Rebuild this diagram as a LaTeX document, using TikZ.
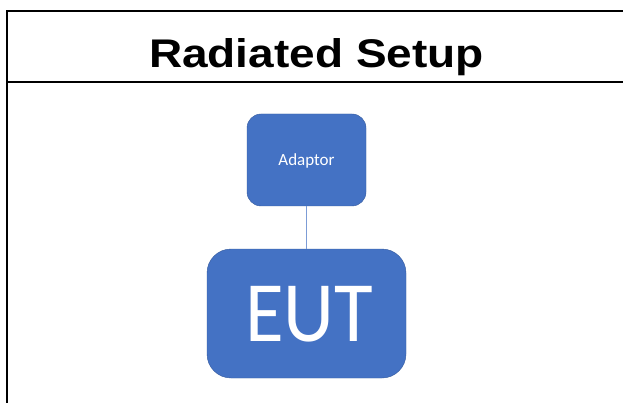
\documentclass[tikz,border=0pt]{standalone}
\usepackage{fontspec}
\usepackage{graphicx}
\setmainfont{Liberation Sans}
\newfontfamily\calib{Carlito}
\definecolor{boxblue}{HTML}{4472C4}
\begin{document}
\begin{tikzpicture}[x=1pt,y=-1pt,
  frameline/.style={black,line width=2pt},
  bluebox/.style={fill=boxblue,draw=boxblue!80!black,line width=0.4pt,text=white,inner sep=0pt},
  link/.style={draw=boxblue!70,line width=0.8pt}]
\useasboundingbox (0,0) rectangle (623,403);
\fill[white] (0,0) rectangle (623,403);
% frame
\coordinate (tl) at (7.3,11);
\coordinate (tr) at (623,11);
\coordinate (ml) at (7.3,82);
\coordinate (mr) at (623,82);
\coordinate (bl) at (7.3,403);
\draw[frameline] (tr) -- (tl) -- (bl);
\draw[frameline] (ml) -- (mr);
% title
\node[anchor=base,inner sep=0pt] (title) at (316.5,68)
  {\scalebox{1.15}[1]{\fontsize{40}{48}\selectfont\bfseries Radiated Setup}};
% boxes
\path[bluebox,rounded corners=14pt] (247,114) rectangle (366,206);
\node[inner sep=0pt,minimum width=119pt,minimum height=92pt] (adaptor) at (306.5,160) {};
\node[text=white,anchor=base,inner sep=0pt] (adlabel) at (306.5,166) {\calib\fontsize{17}{20}\selectfont Adaptor};
\path[bluebox,rounded corners=24pt] (207,249) rectangle (406,378);
\node[inner sep=0pt,minimum width=199pt,minimum height=129pt] (eut) at (306.5,313.5) {};
\node[text=white,anchor=base,inner sep=0pt] (eutlabel) at (309,341.7) {\calib\scalebox{0.92}[1]{\fontsize{86}{90}\selectfont EUT}};
\draw[link] (adaptor.south) -- (eut.north);
\end{tikzpicture}
\end{document}
